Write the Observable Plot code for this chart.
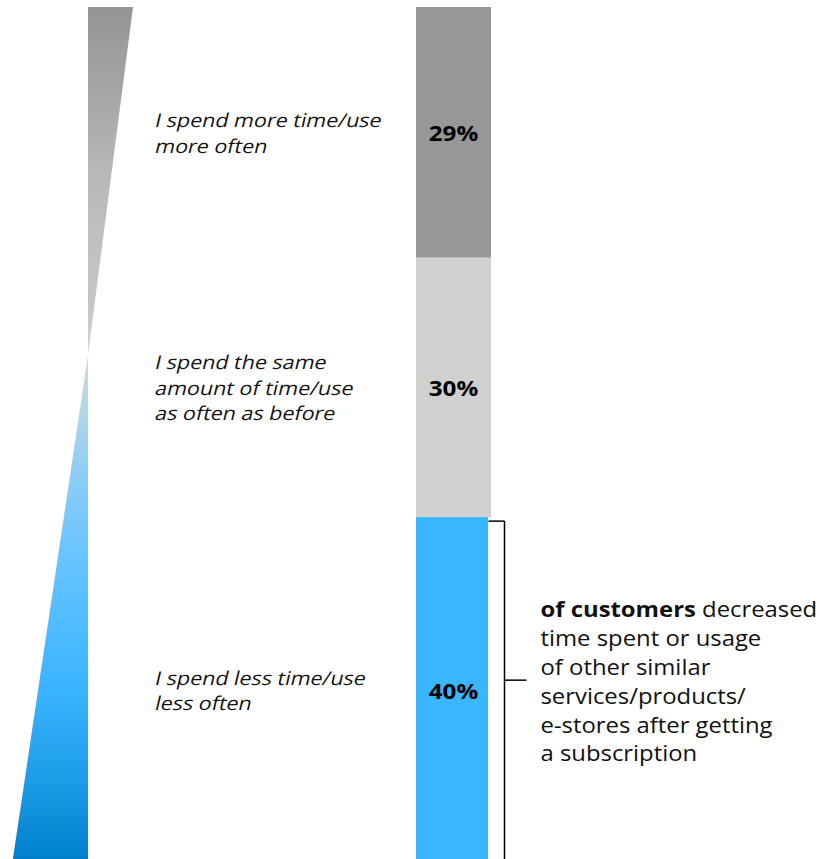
<!DOCTYPE html>
<html><head><meta charset="utf-8">
<script src="https://cdn.jsdelivr.net/npm/d3@7"></script>
<script src="https://cdn.jsdelivr.net/npm/@observablehq/plot@0.6"></script>
<style>html,body{margin:0;padding:0;background:#fff;overflow:hidden}</style>
</head><body><div id="chart"></div>
<script>
// ---- data ----
const categories = [
  "I spend more time/use\nmore often",
  "I spend the same\namount of time/use\nas often as before",
  "I spend less time/use\nless often"
];
const shares = [29, 30, 40];
const shareLabels = ["29%", "30%", "40%"];
const noteBold = "of customers";
const noteFirstRest = " decreased";
const noteLines = ["time spent or usage", "of other similar", "services/products/", "e-stores after getting", "a subscription"];

// ---- styling / layout ----
const palette = ["#979797", "#d0d0ce", "#38b6ff"];
const PX = 8.646;             // pixels per percentage point
const LABEL_LH = 25.4;        // label line height in px
let acc = 0;
const rows = shares.map((v, i) => {
  const r = {i, cat: categories[i], label: shareLabels[i], y1: acc, y2: acc + v, mid: acc + v / 2};
  acc += v;
  return r;
});
const labelLines = rows.flatMap(r => {
  const parts = r.cat.split("\n");
  return parts.map((t, k) => ({t, y: r.mid + 0.1 + (k - (parts.length - 1) / 2) * LABEL_LH / PX}));
});
const last = rows[rows.length - 1];
const noteMid = 77.8;
const wedge = [{y: 0, a: 133}, {y: 40.25, a: 88}, {y: 100, a: 11}];

const gradStops = [
  [0, "#959595"], [0.12, "#a8a9a9"], [0.2, "#b8baba"], [0.35, "#c6c6c6"],
  [0.41, "#d4d7d9"], [0.47, "#b4d6ea"], [0.55, "#8ccdf6"], [0.65, "#66c4ff"],
  [0.8, "#3ab4ff"], [0.9, "#1f9fe8"], [1, "#0080cc"]
];

const defs = () => {
  const d = d3.create("svg:defs");
  const g = d.append("linearGradient").attr("id", "wedgeGrad")
    .attr("gradientUnits", "userSpaceOnUse").attr("x1", 0).attr("x2", 0).attr("y1", 7).attr("y2", 859);
  gradStops.forEach(([o, c]) => g.append("stop").attr("offset", o).attr("stop-color", c));
  return d.node();
};

const chart = Plot.plot({
  width: 820, height: 859, margin: 0,
  x: {domain: [0, 820], range: [0, 820], axis: null},
  y: {domain: [0, 100], range: [7, 7 + 100 * PX], axis: null},
  color: {type: "identity"},
  style: {fontFamily: "'Open Sans', sans-serif", background: "transparent", overflow: "hidden"},
  marks: [
    defs,
    Plot.areaX(wedge, {y: "y", x1: 88, x2: "a", fill: "url(#wedgeGrad)"}),
    Plot.rect(rows, {x1: 416, x2: d => d.i === 2 ? 488 : 491, y1: "y1", y2: "y2", fill: d => palette[d.i]}),
    Plot.text(rows, {x: 453, y: "mid", dy: 1.5, text: "label", fontWeight: "bold", fontSize: 22, fill: "#000"}),
    Plot.text(labelLines, {x: 155, y: "y", text: "t", textAnchor: "start", fontSize: 19, fill: "#111"}),
    // bracket
    Plot.link([last], {x1: 488, x2: 504, y1: "y1", y2: "y1", dy: 3.5, stroke: "#000", strokeWidth: 1.5}),
    Plot.link([last], {x1: 504, x2: 504, y1: "y1", y2: 100, dy: 3.5, stroke: "#000", strokeWidth: 1.5}),
    Plot.link([last], {x1: 504, x2: 526, y1: noteMid, y2: noteMid, stroke: "#000", strokeWidth: 1.5}),
    Plot.text([[noteBold + noteFirstRest, ...noteLines].join("\n")], {x: 540, y: noteMid, text: d => d, textAnchor: "start", fontSize: 22, lineHeight: 1.31, fill: "#111"})
  ]
});

// widen / slant text to match the reference typography (around each text's anchor)
const catSet = new Set(labelLines.map(d => d.t));
const pctSet = new Set(shareLabels);
chart.querySelectorAll("text").forEach(t => {
  const txt = t.textContent;
  let extra = null;
  if (catSet.has(txt)) extra = "scale(1.13,1) skewX(-12)";
  else if (pctSet.has(txt)) extra = "scale(1.1,1)";
  else if (txt.startsWith(noteBold)) extra = "scale(1.085,1)";
  if (!extra) return;
  const tr = t.getAttribute("transform") || "";
  let ax = 0, ay = 0;
  const m = tr.match(/translate\(\s*([-\d.e]+)[ ,]+([-\d.e]+)\s*\)/);
  if (m) { ax = +m[1]; ay = +m[2]; }
  else {
    const src = t.hasAttribute("x") ? t : (t.querySelector("tspan") || t);
    ax = parseFloat(src.getAttribute("x")) || 0;
    ay = parseFloat(src.getAttribute("y")) || 0;
  }
  t.setAttribute("transform", `translate(${ax},${ay}) ${extra} translate(${-ax},${-ay}) ${tr}`);
});

// make the leading words of the note bold
chart.querySelectorAll("tspan").forEach(t => {
  if (t.textContent === noteBold + noteFirstRest) {
    t.textContent = "";
    const b = document.createElementNS("http://www.w3.org/2000/svg", "tspan");
    b.setAttribute("font-weight", "bold");
    b.textContent = noteBold;
    t.appendChild(b);
    t.appendChild(document.createTextNode(noteFirstRest));
  }
});
document.getElementById("chart").appendChild(chart);
</script>
</body></html>
